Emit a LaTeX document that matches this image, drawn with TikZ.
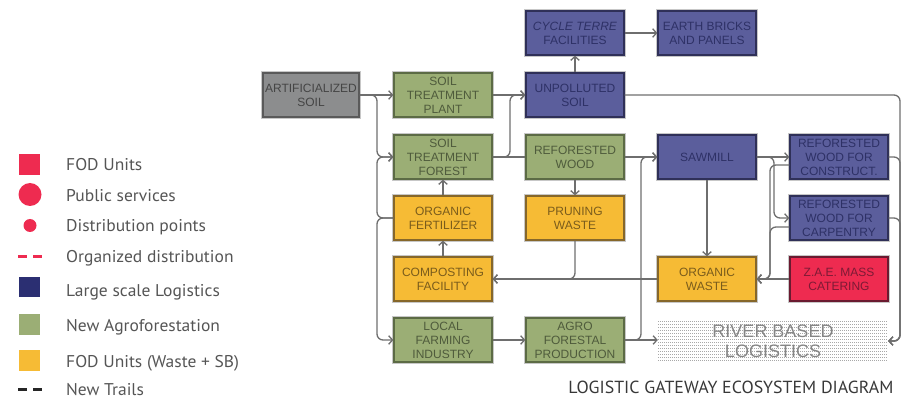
\documentclass[tikz,border=0pt]{standalone}
\usepackage{fontspec}
\setmainfont{Liberation Sans}
\newfontfamily\legfont[FakeStretch=1.03]{PT Sans}
\newfontfamily\titlefont[FakeStretch=1.02]{PT Sans}
\usetikzlibrary{arrows.meta,calc}

\definecolor{cgrey}{HTML}{8C8D8E}
\definecolor{cgreyd}{HTML}{5A5A5A}
\definecolor{cgreyt}{HTML}{454545}
\definecolor{cgreen}{HTML}{9BAE75}
\definecolor{cgreend}{HTML}{5C6B45}
\definecolor{cgreent}{HTML}{4F5B3C}
\definecolor{cblue}{HTML}{5B5E9C}
\definecolor{cblued}{HTML}{2F3058}
\definecolor{cbluet}{HTML}{2E3166}
\definecolor{cyellow}{HTML}{F6BB35}
\definecolor{cyellowd}{HTML}{86672A}
\definecolor{cyellowt}{HTML}{7A5C1C}
\definecolor{cred}{HTML}{EE2B50}
\definecolor{credd}{HTML}{6A1A30}
\definecolor{credt}{HTML}{7D1A35}
\definecolor{cnavy}{HTML}{2B2F72}
\definecolor{cline}{HTML}{6E6E6E}
\definecolor{clegtext}{HTML}{555555}
\definecolor{criver}{HTML}{858585}
\definecolor{crivdots}{HTML}{A8A8A8}

\begin{document}
\begin{tikzpicture}[x=1pt,y=-1pt,
  box/.style={line width=1.3pt, minimum width=98pt, minimum height=44pt, inner sep=0pt,
    align=center, font=\fontsize{12}{14}\selectfont,
    preaction={draw=black!22, line width=3.4pt}},
  greybox/.style={box, fill=cgrey, draw=cgreyd, text=cgreyt, minimum width=96pt},
  greenbox/.style={box, fill=cgreen, draw=cgreend, text=cgreent},
  bluebox/.style={box, fill=cblue, draw=cblued, text=cbluet},
  yellowbox/.style={box, fill=cyellow, draw=cyellowd, text=cyellowt},
  redbox/.style={box, fill=cred, draw=credd, text=credt},
  riverbox/.style={minimum width=230pt, minimum height=42pt, inner sep=0pt, align=center,
    text=criver, font=\fontsize{18}{20}\selectfont,
    path picture={\foreach \i in {0,...,13}
      \draw[crivdots, line width=1pt, dash pattern=on 1pt off 1pt]
        ([yshift=-\i*3pt-1.5pt]path picture bounding box.north west) --
        ([yshift=-\i*3pt-1.5pt]path picture bounding box.north east);}},
  conn/.style={draw=cline, line width=1.3pt, rounded corners=6pt},
  arr/.style={conn, -{Straight Barb[length=3.8pt,width=8.5pt]}},
  legtext/.style={anchor=base west, text=clegtext, inner sep=0pt, font=\legfont\fontsize{17}{19}\selectfont},
]
\useasboundingbox (0,0) rectangle (921,398);

% ---- legend ----
\fill[cred] (19,154) rectangle (40,175);
\node[legtext] (l1) at (66,171) {FOD Units};
\fill[cred] (30,194.5) circle (11.5);
\node[legtext] (l2) at (66,202) {Public services};
\fill[cred] (30,225.5) circle (6.5);
\node[legtext] (l3) at (66,232) {Distribution points};
\draw[cred, line width=3pt, dash pattern=on 9pt off 6pt] (18,256.5) -- (42,256.5);
\node[legtext] (l4) at (66,262) {Organized distribution};
\fill[cnavy] (19,277) rectangle (40,297);
\node[legtext] (l5) at (66,296) {Large scale Logistics};
\fill[cgreen] (19,314) rectangle (40,335);
\node[legtext] (l6) at (66,331) {New Agroforestation};
\fill[cyellow] (19,350) rectangle (40,371);
\node[legtext] (l7) at (66,367) {FOD Units (Waste + SB)};
\draw[black!85, line width=3pt, dash pattern=on 9pt off 6pt] (18,389) -- (42,389);
\node[legtext] (l8) at (66,395) {New Trails};

\node[anchor=base, text=black!78, inner sep=0pt, font=\titlefont\fontsize{17.5}{19}\selectfont] (title) at (731,393) {LOGISTIC GATEWAY ECOSYSTEM DIAGRAM};

% ---- boxes ----
\node[greybox] (asoil) at (311,95) {ARTIFICIALIZED\\SOIL};
\node[greenbox] (stp) at (443,95) {SOIL\\TREATMENT\\PLANT};
\node[greenbox] (stf) at (443,157) {SOIL\\TREATMENT\\FOREST};
\node[yellowbox] (of) at (443,218) {ORGANIC\\FERTILIZER};
\node[yellowbox] (cf) at (443,279) {COMPOSTING\\FACILITY};
\node[greenbox] (lfi) at (443,340) {LOCAL\\FARMING\\INDUSTRY};

\node[bluebox] (ct) at (575,33) {\textit{CYCLE TERRE}\\FACILITIES};
\node[bluebox] (eb) at (707,33) {EARTH BRICKS\\AND PANELS};
\node[bluebox] (us) at (575,95) {UNPOLLUTED\\SOIL};
\node[greenbox] (rw) at (575,157) {REFORESTED\\WOOD};
\node[yellowbox] (pw) at (575,218) {PRUNING\\WASTE};
\node[greenbox] (afp) at (575,340) {AGRO\\FORESTAL\\PRODUCTION};

\node[bluebox] (sm) at (707,157) {SAWMILL};
\node[yellowbox] (ow) at (707,279) {ORGANIC\\WASTE};
\node[riverbox] (rbl) at (773,341) {RIVER BASED\\LOGISTICS};

\node[bluebox] (rwc) at (839,157) {REFORESTED\\WOOD FOR\\CONSTRUCT.};
\node[bluebox] (rwp) at (839,218) {REFORESTED\\WOOD FOR\\CARPENTRY};
\node[redbox] (zae) at (839,279) {Z.A.E. MASS\\CATERING};

% ---- helper x positions ----
\coordinate (lx) at (377,0);
\coordinate (mx) at (510,0);
\coordinate (ax) at (641,0);
\coordinate (sx) at (774,0);
\coordinate (wx) at (770,0);
\coordinate (rx) at (900,0);
\coordinate (rwcL) at ([yshift=-8pt]rwc.west);
\coordinate (rwpL) at ([yshift=-9pt]rwp.west);

% ---- connectors ----
\draw[arr] (asoil.east) -- (stp.west);
\draw[arr] (asoil.east) -- (asoil.east -| lx) -- (stf.west -| lx) -- (stf.west);
\draw[arr] (of.west) -- (of.west -| lx) -- (stf.west -| lx) -- (stf.west);
\draw[arr] (of.west) -- (of.west -| lx) -- (lfi.west -| lx) -- (lfi.west);
\draw[arr] (of.north) -- (stf.south);
\draw[arr] (cf.north) -- (of.south);

\draw[arr] (stp.east) -- (us.west);
\draw[arr] (stf.east) -- (stf.east -| mx) -- (us.west -| mx) -- (us.west);
\draw[conn] (stf.east) -- (rw.west);
\draw[arr] (lfi.east) -- (afp.west);

\draw[arr] (us.north) -- (ct.south);
\draw[arr] (ct.east) -- (eb.west);
\draw[arr] (us.east) -- (us.east -| rx) -- (rbl.east -| rx) -- (rbl.east);
\draw[arr] (rw.south) -- (pw.north);
\draw[arr] (rw.east) -- (sm.west);
\draw[arr] (pw.south) -- (pw.south |- cf.east) -- (cf.east);
\draw[arr] (ow.west) -- (cf.east);
\draw[arr] (afp.east) -- (afp.east -| ax) -- (sm.west -| ax) -- (sm.west);
\draw[arr] (afp.east) -- (afp.east -| rbl.west);

\draw[arr] (sm.south) -- (ow.north);
\draw[arr] (sm.east) -- (rwc.west);
\draw[arr] (sm.east) -- (sm.east -| sx) -- (rwp.west -| sx) -- (rwp.west);
\draw[arr] (rwcL) -- (rwcL -| wx) -- (ow.east -| wx) -- (ow.east);
\draw[arr] (rwpL) -- (rwpL -| wx) -- (ow.east -| wx) -- (ow.east);
\draw[arr] (zae.west) -- (ow.east);
\draw[arr] (rwc.east) -- (rwc.east -| rx) -- (rbl.east -| rx) -- (rbl.east);
\draw[arr] (rwp.east) -- (rwp.east -| rx) -- (rbl.east -| rx) -- (rbl.east);
\end{tikzpicture}
\end{document}
